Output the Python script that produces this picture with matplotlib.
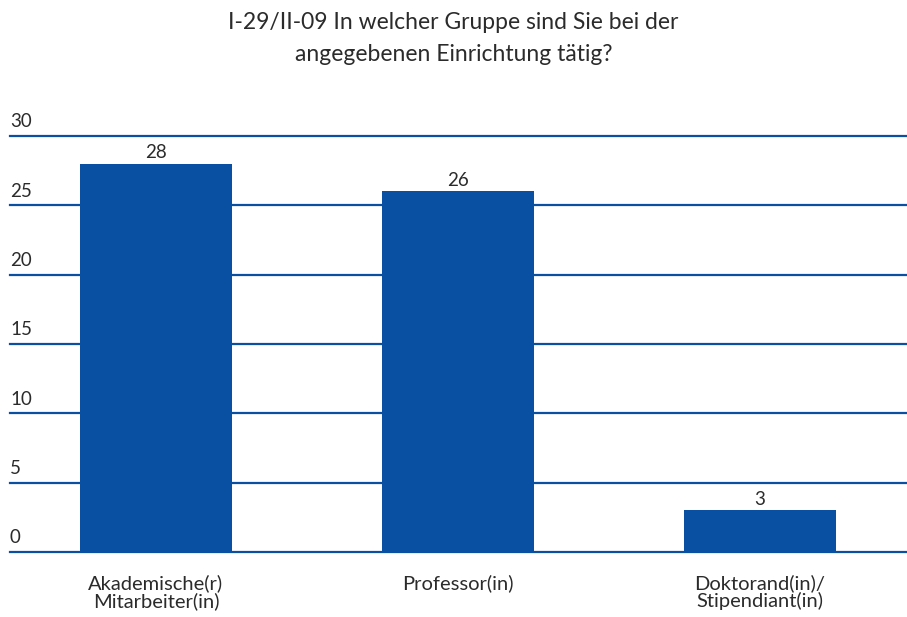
import matplotlib.pyplot as plt
import numpy as np

plt.rcParams['font.family'] = ['Lato', 'DejaVu Sans']

categories = ['Akademische(r)\nMitarbeiter(in)', 'Professor(in)', 'Doktorand(in)/\nStipendiant(in)']
values = [28, 26, 3]
yticks = [0, 5, 10, 15, 20, 25, 30]
title = 'I-29/II-09 In welcher Gruppe sind Sie bei der\nangegebenen Einrichtung tätig?'

blue = '#0a50a2'
txt = '#2b2b2b'

fig = plt.figure(figsize=(9.07, 6.17), dpi=100)
ax = fig.add_axes([10 / 907, 1 - 552 / 617, 1 - 10 / 907, (552 - 136) / 617])

x = np.arange(len(categories))
ax.bar(x, values, width=0.503, color=blue, zorder=3)

for v in yticks:
    ax.axhline(v, color=blue, lw=1.6, zorder=2, clip_on=False)
    ax.annotate(str(v), xy=(0, v), xycoords=('axes fraction', 'data'),
                xytext=(0, 4), textcoords='offset points',
                ha='left', va='bottom', fontsize=13.5, color=txt)

for xi, v in zip(x, values):
    ax.annotate(str(v), xy=(xi, v), xytext=(0, 2), textcoords='offset points',
                ha='center', va='bottom', fontsize=13.5, color=txt)

ax.set_xlim(-0.483, 2.487)
ax.set_ylim(0, 30)
ax.set_yticks([])
ax.set_xticks(x)
ax.set_xticklabels(categories, fontsize=14.5, color=txt, linespacing=1.0)
ax.tick_params(axis='x', length=0, pad=16)
for s in ax.spines.values():
    s.set_visible(False)

fig.text(0.5, 0.98, title, ha='center', va='top', fontsize=16.5, color=txt, linespacing=1.6)

fig.savefig('out.png', dpi=100)
